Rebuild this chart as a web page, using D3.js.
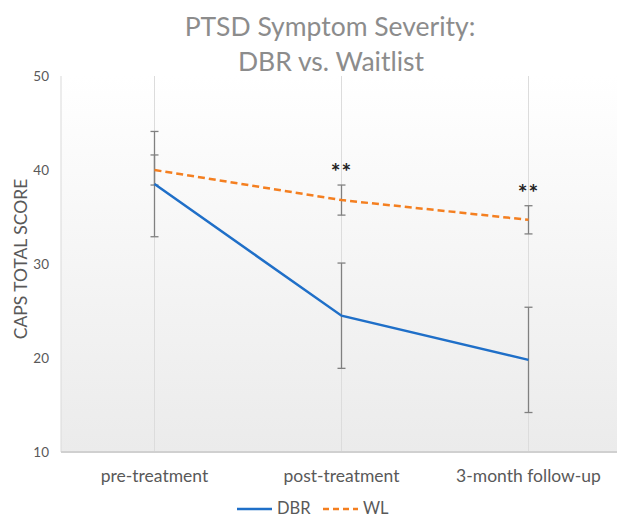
<!DOCTYPE html>
<meta charset="utf-8">
<style>
body { margin: 0; background: #fff; }
text { font-family: Lato, "Open Sans", sans-serif; }
</style>
<svg width="617" height="518"></svg>
<script src="https://d3js.org/d3.v7.min.js"></script>
<script>

var categories = ["pre-treatment", "post-treatment", "3-month follow-up"];
var dbrMean = [38.5, 24.5, 19.8];
var dbrErr = [5.6, 5.6, 5.6];
var wlMean = [40.0, 36.8, 34.7];
var wlErr = [1.6, 1.6, 1.5];
var stars = ["", "**", "**"];
var yTicks = [10, 20, 30, 40, 50];

var svg = d3.select("svg");

var x = d3.scalePoint()
    .domain(categories)
    .range([61, 622])
    .padding(0.5);

var y = d3.scaleLinear()
    .domain([10, 50])
    .range([452, 76]);

// background gradient
var grad = svg.append("defs").append("linearGradient")
    .attr("id", "bg").attr("x1", 0).attr("y1", 0).attr("x2", 0).attr("y2", 1);
grad.append("stop").attr("offset", "0%").attr("stop-color", "#ffffff");
grad.append("stop").attr("offset", "100%").attr("stop-color", "#ebebeb");

svg.append("rect")
    .attr("x", 61).attr("y", y(50))
    .attr("width", 617 - 61).attr("height", y(10) - y(50))
    .attr("fill", "url(#bg)");

// title
svg.append("text")
    .attr("x", 330).attr("y", 36)
    .attr("text-anchor", "middle")
    .attr("fill", "#8c8c8c")
    .style("font-size", "26.5px")
    .text("PTSD Symptom Severity:");
svg.append("text")
    .attr("x", 331).attr("y", 71)
    .attr("text-anchor", "middle")
    .attr("fill", "#8c8c8c")
    .style("font-size", "26.5px")
    .text("DBR vs. Waitlist");

// vertical gridlines
svg.selectAll(".vgrid")
    .data(categories)
    .enter().append("line")
    .attr("class", "vgrid")
    .attr("x1", function(d) { return x(d); })
    .attr("x2", function(d) { return x(d); })
    .attr("y1", y(50)).attr("y2", y(10))
    .attr("stroke", "#dcdcdc");

// axes
svg.append("line")
    .attr("x1", 61).attr("x2", 61)
    .attr("y1", y(50)).attr("y2", y(10))
    .attr("stroke", "#d9d9d9");
svg.append("line")
    .attr("x1", 61).attr("x2", 617)
    .attr("y1", y(10)).attr("y2", y(10))
    .attr("stroke", "#d0d0d0").attr("stroke-width", 2);

svg.selectAll(".ytick")
    .data(yTicks)
    .enter().append("text")
    .attr("class", "ytick")
    .attr("x", 49).attr("y", function(d) { return y(d); })
    .attr("dy", "0.35em")
    .attr("text-anchor", "end")
    .attr("fill", "#595959")
    .style("font-size", "13.5px")
    .text(function(d) { return d; });

svg.selectAll(".xlab")
    .data(categories)
    .enter().append("text")
    .attr("class", "xlab")
    .attr("x", function(d) { return x(d); })
    .attr("y", 482)
    .attr("text-anchor", "middle")
    .attr("fill", "#595959")
    .style("font-size", "17.5px")
    .text(function(d) { return d; });

svg.append("text")
    .attr("transform", "translate(27,259) rotate(-90)")
    .attr("text-anchor", "middle")
    .attr("fill", "#595959")
    .style("font-size", "17.5px")
    .text("CAPS TOTAL SCORE");

// error bars
function errorBars(means, errs) {
  var g = svg.append("g").attr("stroke", "#808080").attr("stroke-width", 1.3);
  means.forEach(function(m, i) {
    var cx = x(categories[i]);
    g.append("line").attr("x1", cx).attr("x2", cx)
      .attr("y1", y(m + errs[i])).attr("y2", y(m - errs[i]));
    [m + errs[i], m - errs[i]].forEach(function(v) {
      g.append("line").attr("x1", cx - 4).attr("x2", cx + 4)
        .attr("y1", y(v)).attr("y2", y(v));
    });
  });
}
errorBars(dbrMean, dbrErr);
errorBars(wlMean, wlErr);

var line = d3.line()
    .x(function(d, i) { return x(categories[i]); })
    .y(function(d) { return y(d); });

svg.append("path")
    .datum(wlMean)
    .attr("d", line)
    .attr("fill", "none")
    .attr("stroke", "#f47f20")
    .attr("stroke-width", 2.5)
    .attr("stroke-dasharray", "7,4");

svg.append("path")
    .datum(dbrMean)
    .attr("d", line)
    .attr("fill", "none")
    .attr("stroke", "#1f6fc8")
    .attr("stroke-width", 2.5);

// significance markers
svg.selectAll(".star")
    .data(stars)
    .enter().append("text")
    .attr("class", "star")
    .attr("x", function(d, i) { return x(categories[i]); })
    .attr("y", function(d, i) { return y(wlMean[i] + wlErr[i]) - 5; })
    .attr("text-anchor", "middle")
    .attr("fill", "#222")
    .style("font-size", "23px")
    .style("font-weight", "bold")
    .style("letter-spacing", "1px")
    .text(function(d) { return d; });

// legend
var legend = svg.append("g");
legend.append("line")
    .attr("x1", 237).attr("x2", 272).attr("y1", 509).attr("y2", 509)
    .attr("stroke", "#1f6fc8").attr("stroke-width", 2.5);
legend.append("text")
    .attr("x", 277).attr("y", 514)
    .attr("fill", "#595959").style("font-size", "16.5px")
    .text("DBR");
legend.append("line")
    .attr("x1", 323).attr("x2", 358).attr("y1", 509).attr("y2", 509)
    .attr("stroke", "#f47f20").attr("stroke-width", 2.5)
    .attr("stroke-dasharray", "6,4");
legend.append("text")
    .attr("x", 363).attr("y", 514)
    .attr("fill", "#595959").style("font-size", "16.5px")
    .text("WL");

</script>
